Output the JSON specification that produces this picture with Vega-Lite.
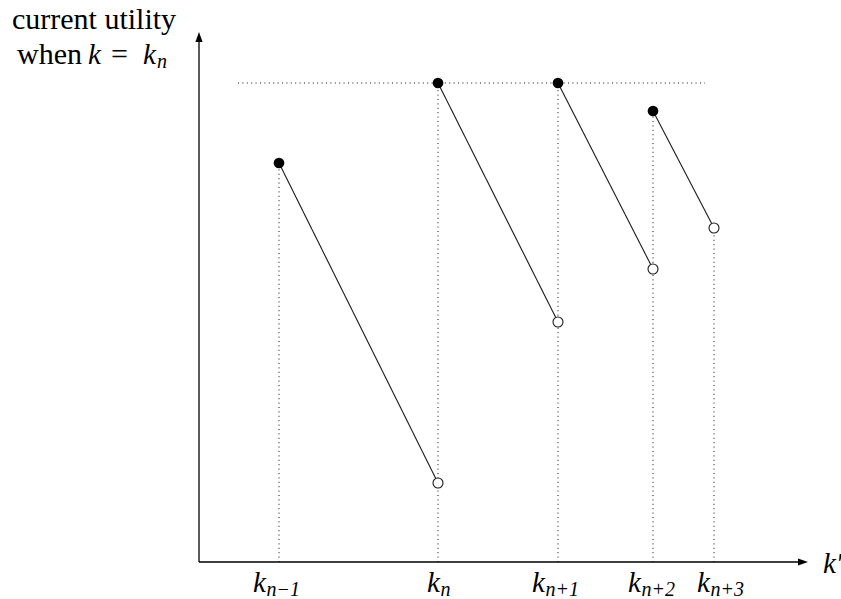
{
  "$schema": "https://vega.github.io/schema/vega-lite/v6.json",
  "width": 610,
  "height": 530,
  "autosize": {"type": "none"},
  "padding": {"left": 199, "top": 32, "right": 32, "bottom": 37},
  "background": "white",
  "config": {"view": {"stroke": null}},
  "datasets": {
    "axes": [
      {"x": 0, "y": 0, "x2": 0, "y2": 52.5},
      {"x": 0, "y": 0, "x2": 60.4, "y2": 0}
    ],
    "arrows": [
      {"x": 60.4, "y": 0, "dir": "right"},
      {"x": 0, "y": 52.5, "dir": "up"}
    ],
    "guides": [
      {"x": 8.0, "y": 0, "x2": 8.0, "y2": 39.9},
      {"x": 23.9, "y": 0, "x2": 23.9, "y2": 47.9},
      {"x": 35.9, "y": 0, "x2": 35.9, "y2": 47.9},
      {"x": 45.4, "y": 0, "x2": 45.4, "y2": 45.1},
      {"x": 51.5, "y": 0, "x2": 51.5, "y2": 33.4},
      {"x": 3.9, "y": 47.9, "x2": 50.6, "y2": 47.9}
    ],
    "segments": [
      {"x": 8.0, "y": 39.9, "x2": 23.9, "y2": 7.9},
      {"x": 23.9, "y": 47.9, "x2": 35.9, "y2": 24.0},
      {"x": 35.9, "y": 47.9, "x2": 45.4, "y2": 29.3},
      {"x": 45.4, "y": 45.1, "x2": 51.5, "y2": 33.4}
    ],
    "dots": [
      {"x": 8.0, "y": 39.9, "kind": "filled"},
      {"x": 23.9, "y": 7.9, "kind": "open"},
      {"x": 23.9, "y": 47.9, "kind": "filled"},
      {"x": 35.9, "y": 24.0, "kind": "open"},
      {"x": 35.9, "y": 47.9, "kind": "filled"},
      {"x": 45.4, "y": 29.3, "kind": "open"},
      {"x": 45.4, "y": 45.1, "kind": "filled"},
      {"x": 51.5, "y": 33.4, "kind": "open"}
    ],
    "ticklabels": [
      {"start": 5.4, "sub": "n−1"},
      {"start": 22.8, "sub": "n"},
      {"start": 33.3, "sub": "n+1"},
      {"start": 42.9, "sub": "n+2"},
      {"start": 49.8, "sub": "n+3"}
    ],
    "roman": [
      {"text": "current utility", "x": -18.7, "y": 53.3},
      {"text": "when", "x": -18.2, "y": 49.8},
      {"text": "=", "x": -8.8, "y": 49.8}
    ],
    "italic": [
      {"text": "k", "x": -11.1, "y": 49.8},
      {"text": "k", "x": -5.6, "y": 49.8},
      {"text": "k′", "x": 62.4, "y": -1.1}
    ],
    "italicsub": [
      {"text": "n", "x": -4.2, "y": 49.4}
    ]
  },
  "layer": [
    {
      "data": {"name": "guides"},
      "mark": {"type": "rule", "color": "#111111", "strokeWidth": 1, "strokeDash": [1, 3.4]},
      "encoding": {
        "x": {"field": "x", "type": "quantitative", "scale": {"domain": [0, 61], "nice": false, "zero": false}, "axis": null},
        "y": {"field": "y", "type": "quantitative", "scale": {"domain": [0, 53], "nice": false, "zero": false}, "axis": null},
        "x2": {"field": "x2"},
        "y2": {"field": "y2"}
      }
    },
    {
      "data": {"name": "axes"},
      "mark": {"type": "rule", "color": "black", "strokeWidth": 1.3},
      "encoding": {
        "x": {"field": "x", "type": "quantitative"},
        "y": {"field": "y", "type": "quantitative"},
        "x2": {"field": "x2"},
        "y2": {"field": "y2"}
      }
    },
    {
      "data": {"name": "arrows"},
      "transform": [{"filter": "datum.dir === 'right'"}],
      "mark": {"type": "point", "shape": "M-1,-0.72L1,0L-1,0.72Z", "size": 100, "filled": true, "color": "black", "opacity": 1},
      "encoding": {
        "x": {"field": "x", "type": "quantitative"},
        "y": {"field": "y", "type": "quantitative"}
      }
    },
    {
      "data": {"name": "arrows"},
      "transform": [{"filter": "datum.dir === 'up'"}],
      "mark": {"type": "point", "shape": "M-0.72,1L0,-1L0.72,1Z", "size": 100, "filled": true, "color": "black", "opacity": 1},
      "encoding": {
        "x": {"field": "x", "type": "quantitative"},
        "y": {"field": "y", "type": "quantitative"}
      }
    },
    {
      "data": {"name": "segments"},
      "mark": {"type": "rule", "color": "#1a1a1a", "strokeWidth": 1.1},
      "encoding": {
        "x": {"field": "x", "type": "quantitative"},
        "y": {"field": "y", "type": "quantitative"},
        "x2": {"field": "x2"},
        "y2": {"field": "y2"}
      }
    },
    {
      "data": {"name": "dots"},
      "transform": [{"filter": "datum.kind === 'filled'"}],
      "mark": {"type": "point", "shape": "circle", "size": 115, "filled": true, "color": "black", "opacity": 1},
      "encoding": {
        "x": {"field": "x", "type": "quantitative"},
        "y": {"field": "y", "type": "quantitative"}
      }
    },
    {
      "data": {"name": "dots"},
      "transform": [{"filter": "datum.kind === 'open'"}],
      "mark": {"type": "point", "shape": "circle", "size": 100, "filled": false, "fill": "white", "fillOpacity": 1, "stroke": "#1a1a1a", "strokeWidth": 1.1, "opacity": 1},
      "encoding": {
        "x": {"field": "x", "type": "quantitative"},
        "y": {"field": "y", "type": "quantitative"}
      }
    },
    {
      "data": {"name": "ticklabels"},
      "mark": {"type": "text", "font": "Liberation Serif", "fontStyle": "italic", "fontSize": 29, "align": "left", "baseline": "alphabetic", "color": "black"},
      "encoding": {
        "x": {"field": "start", "type": "quantitative"},
        "y": {"datum": -3.0, "type": "quantitative"},
        "text": {"value": "k"}
      }
    },
    {
      "data": {"name": "ticklabels"},
      "mark": {"type": "text", "font": "Liberation Serif", "fontStyle": "italic", "fontSize": 20, "align": "left", "baseline": "alphabetic", "dx": 13.5, "color": "black"},
      "encoding": {
        "x": {"field": "start", "type": "quantitative"},
        "y": {"datum": -3.4, "type": "quantitative"},
        "text": {"field": "sub"}
      }
    },
    {
      "data": {"name": "roman"},
      "mark": {"type": "text", "font": "Liberation Serif", "fontSize": 30, "align": "left", "baseline": "alphabetic", "color": "black"},
      "encoding": {
        "x": {"field": "x", "type": "quantitative"},
        "y": {"field": "y", "type": "quantitative"},
        "text": {"field": "text"}
      }
    },
    {
      "data": {"name": "italic"},
      "mark": {"type": "text", "font": "Liberation Serif", "fontStyle": "italic", "fontSize": 29, "align": "left", "baseline": "alphabetic", "color": "black"},
      "encoding": {
        "x": {"field": "x", "type": "quantitative"},
        "y": {"field": "y", "type": "quantitative"},
        "text": {"field": "text"}
      }
    },
    {
      "data": {"name": "italicsub"},
      "mark": {"type": "text", "font": "Liberation Serif", "fontStyle": "italic", "fontSize": 20, "align": "left", "baseline": "alphabetic", "color": "black"},
      "encoding": {
        "x": {"field": "x", "type": "quantitative"},
        "y": {"field": "y", "type": "quantitative"},
        "text": {"field": "text"}
      }
    }
  ]
}
